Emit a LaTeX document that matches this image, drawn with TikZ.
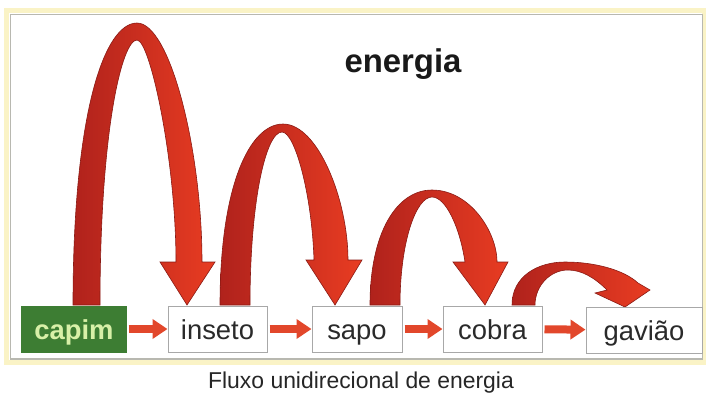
\documentclass[tikz,border=0pt]{standalone}
\usepackage{fontspec}
\setmainfont{Liberation Sans}
\usetikzlibrary{arrows.meta}
\definecolor{arcdark}{HTML}{B0221C}
\definecolor{arclight}{HTML}{E83C22}
\definecolor{arcline}{HTML}{8A1A14}
\definecolor{grassgreen}{HTML}{3D7D33}
\definecolor{grasstext}{HTML}{D8F0A8}
\definecolor{flowred}{HTML}{E2472B}
\definecolor{frameyellow}{HTML}{FAF3C6}
\definecolor{framegray}{HTML}{B8B8B0}
\definecolor{boxgray}{HTML}{A8A8A8}
\definecolor{labeltext}{HTML}{2A2A2A}
\tikzset{
  ribbon/.style={draw=arcline, line width=0.6bp, left color=arcdark, right color=arclight},
  organism/.style={draw=boxgray, line width=1bp, fill=white, minimum height=46bp,
    inner sep=0pt, text height=26bp, text depth=6bp, text=labeltext,
    font=\fontsize{27.5}{30}\selectfont},
  producer/.style={organism, draw=grassgreen, fill=grassgreen, text=grasstext,
    font=\fontsize{27.5}{30}\selectfont\bfseries},
  flow/.style={draw=flowred, line width=8bp, shorten <=2bp,
    -{Triangle[length=15bp,width=19bp]}}
}
\begin{document}
\begin{tikzpicture}[x=1bp,y=-1bp]
\useasboundingbox (0,0) rectangle (706,393);
\fill[white] (0,0) rectangle (706,393);
% frame
\draw[frameyellow, line width=5bp] (6.5,10.5) rectangle (704,362.5);
\draw[framegray, line width=1.2bp, fill=white] (10.5,14.5) rectangle (702.5,359);

% ribbons
\path[ribbon] (73,305) .. controls (73,110) and (105,23) .. (137,23)
  .. controls (170,23) and (202,150) .. (202,262)
  -- (215,262) -- (187,305) -- (160,262) -- (176,262)
  .. controls (176,160) and (150,40) .. (137,40)
  .. controls (122,40) and (100,130) .. (100,305) -- cycle;
\path[ribbon] (220,305) .. controls (220,185) and (250,124) .. (283,124)
  .. controls (318,124) and (348,200) .. (348,260)
  -- (362,260) -- (335,305) -- (306,260) -- (314,260)
  .. controls (312,195) and (295,132) .. (282,132)
  .. controls (266,132) and (250,200) .. (250,305) -- cycle;
\path[ribbon] (370,305) .. controls (370,232) and (397,190) .. (432,190)
  .. controls (470,190) and (497,232) .. (497,262)
  -- (508,262) -- (485,305) -- (453,262) -- (465,262)
  .. controls (460,228) and (446,197) .. (432,197)
  .. controls (416,197) and (400,242) .. (400,305) -- cycle;
\path[ribbon] (512,305) .. controls (512,276) and (538,262) .. (565,262)
  .. controls (595,262) and (624,270) .. (638,283)
  -- (650,290) -- (625,307) -- (595,293) -- (607,290)
  .. controls (595,278) and (582,270) .. (568,270)
  .. controls (550,270) and (535,286) .. (535,305) -- cycle;

% organisms
\node[producer, minimum width=104bp] (capim) at (74,329) {capim};
\node[organism, minimum width=99bp] (inseto) at (217.5,329) {inseto};
\node[organism, minimum width=90bp] (sapo) at (357,329) {sapo};
\node[organism, minimum width=99bp] (cobra) at (492.5,329) {cobra};
\node[organism, minimum width=116bp] (gaviao) at (644,330) {gavião};

% flow arrows
\draw[flow] (capim) -- (inseto);
\draw[flow] (inseto) -- (sapo);
\draw[flow] (sapo) -- (cobra);
\draw[flow] (cobra) -- (gaviao);

% texts
\node[anchor=base, font=\fontsize{33}{36}\selectfont\bfseries, text=black!90] (title) at (403,72) {energia};
\node[anchor=base, font=\fontsize{23}{26}\selectfont, text=black!85] (caption) at (361,388) {Fluxo unidirecional de energia};
\end{tikzpicture}
\end{document}
